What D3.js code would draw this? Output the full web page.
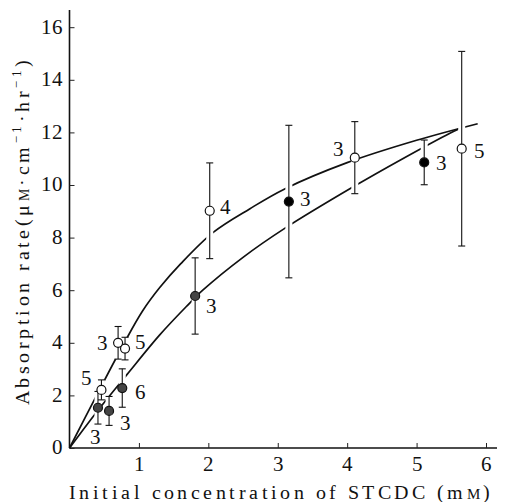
<!DOCTYPE html>
<html>
<head>
<meta charset="utf-8">
<script src="https://cdn.jsdelivr.net/npm/d3@7"></script>
<style>
  @font-face { font-family: "ChartSerif"; src: local("Liberation Serif"), local("LiberationSerif"), local("LiberationSerif-Regular"); }
  body { margin: 0; background: #fff; }
  svg text, svg tspan { font-family: "ChartSerif", "Liberation Serif", serif; }
</style>
</head>
<body>
<svg width="508" height="502"></svg>
<script>
// open circles
const openX = [0.46, 0.70, 0.80, 2.02, 4.11, 5.65];
const openY = [2.21, 4.00, 3.78, 9.02, 11.04, 11.38];
const openErr = [0.38, 0.62, 0.43, 1.82, 1.37, 3.70];
const openN = ["5", "3", "5", "4", "3", "5"];
// half filled circles
const halfX = [0.41, 0.57, 0.76, 1.81];
const halfY = [1.53, 1.41, 2.28, 5.78];
const halfErr = [0.62, 0.55, 0.73, 1.45];
const halfN = ["3", "3", "6", "3"];
// filled circles
const fullX = [3.16, 5.11];
const fullY = [9.37, 10.86];
const fullErr = [2.90, 0.85];
const fullN = ["3", "3"];
// fitted curves
const upperCurve = [[0,0],[0.4,2.05],[0.8,4.05],[1.05,5.2],[1.3,6.1],[1.6,7.0],[2.07,8.2],[2.6,9.1],[3.1,9.85],[4.0,10.85],[5.0,11.7],[5.88,12.33]];
const lowerCurve = [[0,0],[0.4,1.4],[0.83,2.8],[1.3,4.3],[1.68,5.37],[1.92,6.0],[2.5,7.25],[3.1,8.35],[4.1,9.95],[4.8,11.0],[5.48,11.97],[5.6,12.12]];
const xTicks = [1, 2, 3, 4, 5, 6];
const yTicks = [0, 2, 4, 6, 8, 10, 12, 14, 16];

// label offsets (px) for the n-labels, same order as the points
const openLab = [[-15,-12],[-16,0],[15,-7],[16,-4],[-16,-9],[18,2]];
const halfLab = [[-2,29],[16,12],[18,4],[16,10]];
const fullLab = [[17,-3],[17,0]];

const FONT = "ChartSerif, 'Liberation Serif', serif";
const svg = d3.select("svg");
const x = d3.scaleLinear().domain([0, 6]).range([69.5, 486]);
const y = d3.scaleLinear().domain([0, 16]).range([448, 27.2]);

function pts(xs, ys, es, ns, labs, kind) {
  return xs.map((v, i) => ({x: v, y: ys[i], e: es[i], n: ns[i], lab: labs[i], kind: kind}));
}
const points = [].concat(
  pts(openX, openY, openErr, openN, openLab, "open"),
  pts(halfX, halfY, halfErr, halfN, halfLab, "half"),
  pts(fullX, fullY, fullErr, fullN, fullLab, "full"));

// axes lines
svg.append("line").attr("x1", x(0)).attr("x2", x(0))
  .attr("y1", y(0)).attr("y2", 10).attr("stroke", "#111").attr("stroke-width", 1.6);
svg.append("line").attr("x1", x(0)).attr("x2", 497)
  .attr("y1", y(0)).attr("y2", y(0)).attr("stroke", "#111").attr("stroke-width", 1.4);

const yAxis = svg.append("g").attr("transform", `translate(${x(0)},0)`)
  .call(d3.axisLeft(y).tickValues(yTicks).tickFormat(d3.format("d"))
    .tickSizeInner(-5).tickSizeOuter(0).tickPadding(7));
const xAxis = svg.append("g").attr("transform", `translate(0,${y(0)})`)
  .call(d3.axisBottom(x).tickValues(xTicks).tickFormat(d3.format("d"))
    .tickSizeInner(-5).tickSizeOuter(0).tickPadding(8));
[yAxis, xAxis].forEach(a => {
  a.attr("font-family", null).attr("font-size", null);
  a.select(".domain").remove();
  a.selectAll("line").attr("stroke", "#222");
  a.selectAll("text").style("font-family", FONT).attr("font-size", 21).attr("fill", "#111");
});
yAxis.selectAll("text").attr("dy", "0.28em");

// curves
const line = d3.line().x(d => x(d[0])).y(d => y(d[1])).curve(d3.curveCatmullRom);
svg.append("g").selectAll("path").data([upperCurve, lowerCurve]).enter()
  .append("path").attr("d", line).attr("fill", "none")
  .attr("stroke", "#111").attr("stroke-width", 1.7);

// white halo behind error bars makes the gaps in the curves
const halo = svg.append("g").attr("stroke", "#fff").attr("stroke-width", 7);
halo.selectAll("line").data(points).enter().append("line")
  .attr("x1", d => x(d.x)).attr("x2", d => x(d.x))
  .attr("y1", d => y(d.y + d.e)).attr("y2", d => y(d.y - d.e));

const bars = svg.append("g").attr("stroke", "#111").attr("stroke-width", 1.1);
bars.selectAll(".v").data(points).enter().append("line")
  .attr("x1", d => x(d.x)).attr("x2", d => x(d.x))
  .attr("y1", d => y(d.y + d.e)).attr("y2", d => y(d.y - d.e));
bars.selectAll(".t").data(points).enter().append("line")
  .attr("x1", d => x(d.x) - 3.5).attr("x2", d => x(d.x) + 3.5)
  .attr("y1", d => y(d.y + d.e)).attr("y2", d => y(d.y + d.e));
bars.selectAll(".b").data(points).enter().append("line")
  .attr("x1", d => x(d.x) - 3.5).attr("x2", d => x(d.x) + 3.5)
  .attr("y1", d => y(d.y - d.e)).attr("y2", d => y(d.y - d.e));

const fills = {open: "#fff", half: "#444", full: "#000"};
svg.append("g").selectAll("circle").data(points).enter().append("circle")
  .attr("cx", d => x(d.x)).attr("cy", d => y(d.y)).attr("r", 4.5)
  .attr("fill", d => fills[d.kind]).attr("stroke", "#111").attr("stroke-width", 1.2);

svg.append("g").selectAll("text").data(points).enter().append("text")
  .attr("x", d => x(d.x) + d.lab[0]).attr("y", d => y(d.y) + d.lab[1])
  .attr("dy", "0.35em").attr("text-anchor", "middle")
  .style("font-family", FONT).attr("font-size", 21)
  .attr("fill", "#111").text(d => d.n);

// axis titles
const xt = svg.append("text").attr("x", 69).attr("y", 499)
  .style("font-family", FONT).attr("font-size", 20).attr("fill", "#111")
  .attr("textLength", 421).attr("lengthAdjust", "spacing");
xt.append("tspan").text("Initial concentration of STCDC (m");
xt.append("tspan").attr("font-size", 15).text("M");
xt.append("tspan").text(")");

const yt = svg.append("text").attr("transform", "translate(29,405) rotate(-90)")
  .style("font-family", FONT).attr("font-size", 20).attr("fill", "#111")
  .attr("textLength", 345).attr("lengthAdjust", "spacing");
yt.append("tspan").text("Absorption rate(\u03bc");
yt.append("tspan").attr("font-size", 14).text("M");
yt.append("tspan").text("\u00b7cm");
yt.append("tspan").attr("font-size", 13).attr("dy", -8).text("\u22121");
yt.append("tspan").attr("dy", 8).text("\u00b7hr");
yt.append("tspan").attr("font-size", 13).attr("dy", -8).text("\u22121");
yt.append("tspan").attr("dy", 8).text(")");
</script>
</body>
</html>
